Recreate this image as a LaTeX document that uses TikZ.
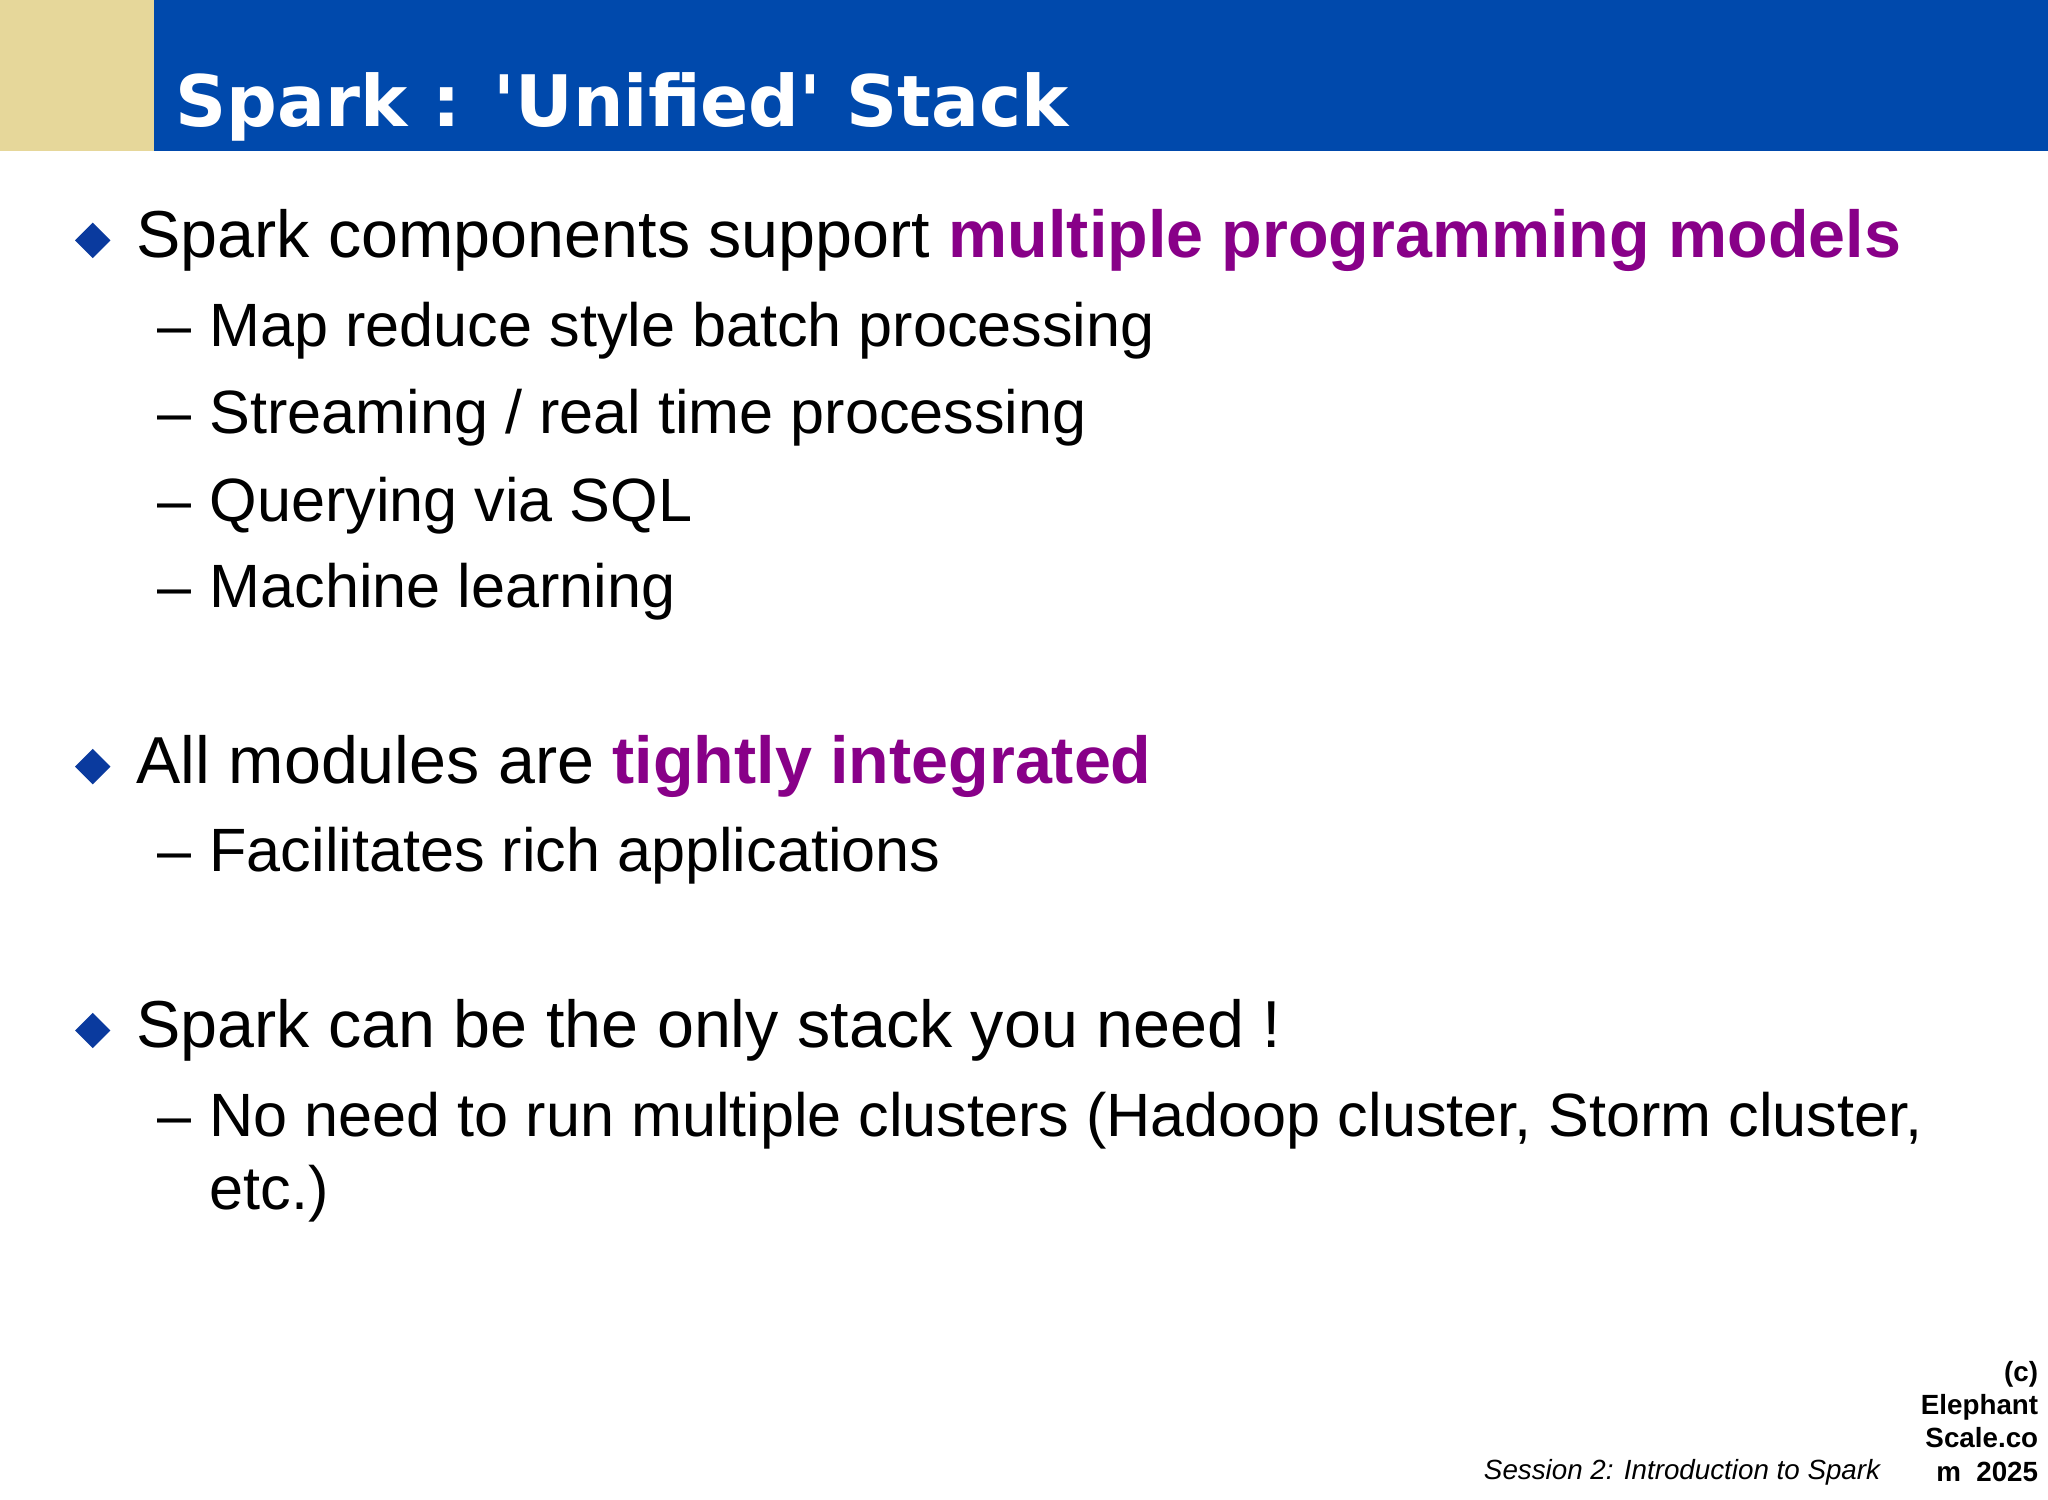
\documentclass[tikz,border=0pt]{standalone}
\usepackage{fontspec}
\setmainfont{Liberation Sans}
\newfontfamily\titlefont{DejaVu Sans}
\definecolor{barblue}{HTML}{0049AC}
\definecolor{tan}{HTML}{E6D79A}
\definecolor{purp}{HTML}{880088}
\definecolor{dia}{HTML}{0A3A9E}
\newcommand{\sdash}{\makebox[0.522cm][l]{–}}
\begin{document}
\begin{tikzpicture}[x=0.013061cm,y=-0.013061cm,
  body/.style={anchor=base west,inner sep=0pt,font=\fontsize{18.9}{22}\selectfont},
  sub/.style={anchor=base west,inner sep=0pt,font=\fontsize{17.4}{21}\selectfont},
  bul/.style={diamond,fill=dia,inner sep=0pt,minimum size=0.36cm},
  ft/.style={anchor=base east,inner sep=0pt,font=\bfseries\fontsize{7.9}{9}\selectfont}]
\usetikzlibrary{shapes.geometric}
\useasboundingbox (0,0) rectangle (1568,1148);
\fill[white] (0,0) rectangle (1568,1148);
\fill[tan] (0,0) rectangle (118,116);
\fill[barblue] (118,0) rectangle (1568,116);
\node[anchor=base west,inner sep=0pt,text=white,font=\titlefont\bfseries\fontsize{20.2}{24}\selectfont] (title) at (134,97) {Spark : 'Unified' Stack};
\node[bul] (b1) at (71,184) {};
\node[body] (t1) at (104,197) {Spark components support \textcolor{purp}{\bfseries multiple programming models}};
\node[sub] (s1) at (120,265) {\sdash Map reduce style batch processing};
\node[sub] (s2) at (120,332) {\sdash Streaming / real time processing};
\node[sub] (s3) at (120,399) {\sdash Querying via SQL};
\node[sub] (s4) at (120,465) {\sdash Machine learning};
\node[bul] (b2) at (71,587) {};
\node[body] (t2) at (104,600) {All modules are \textcolor{purp}{\bfseries tightly integrated}};
\node[sub] (s5) at (120,667) {\sdash Facilitates rich applications};
\node[bul] (b3) at (71,789) {};
\node[body] (t3) at (104,802) {Spark can be the only stack you need !};
\node[sub] (s6) at (120,870) {\sdash No need to run multiple clusters (Hadoop cluster, Storm cluster,};
\node[sub] (s7) at (160,926) {etc.)};
\node[anchor=base east,inner sep=0pt,font=\itshape\fontsize{7.9}{9}\selectfont] (foot) at (1440,1133) {Session 2: Introduction to Spark};
\node[ft] (copy) at (1561,1058) {(c)};
\node[ft] (c2) at (1561,1083) {Elephant};
\node[ft] (c3) at (1561,1108) {Scale.co};
\node[ft] (c4) at (1561,1134) {m\ \ 2025};
\end{tikzpicture}
\end{document}
